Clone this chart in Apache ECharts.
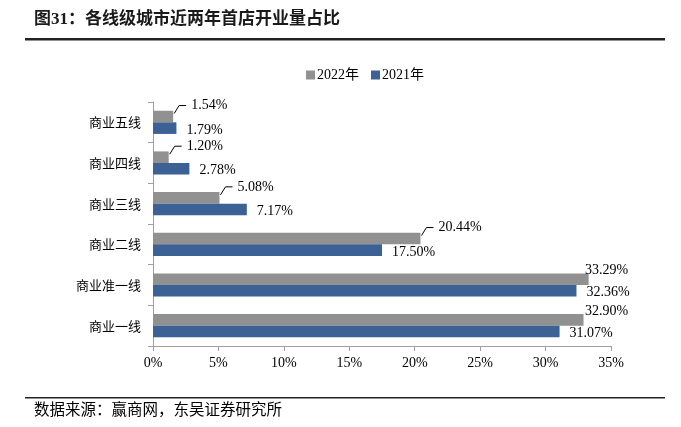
<!DOCTYPE html>
<html><head><meta charset="utf-8">
<script src="https://cdn.jsdelivr.net/npm/echarts@6/dist/echarts.min.js"></script>
<style>html,body{margin:0;padding:0;background:#fff}#c{width:681px;height:427px}</style>
</head><body><div id="c"></div>
<script>
var categories = ['商业一线','商业准一线','商业二线','商业三线','商业四线','商业五线'];
var values2022 = [32.90, 33.29, 20.44, 5.08, 1.20, 1.54];
var values2021 = [31.07, 32.36, 17.50, 7.17, 2.78, 1.79];
var xTicks = [0, 5, 10, 15, 20, 25, 30, 35];

var serif = '"Liberation Serif","Times New Roman","Noto Sans CJK SC",serif';
function pct(v){ return v.toFixed(2) + '%'; }

var chart = echarts.init(document.getElementById('c'));
chart.setOption({
  animation: false,
  textStyle: {fontFamily: serif},
  legend: {
    top: 63, left: 301, itemWidth: 9, itemHeight: 9, itemGap: 12,
    icon: 'rect',
    textStyle: {fontFamily: serif, fontSize: 14, color: '#000', padding: [0,0,0,-3]},
    data: ['2022年','2021年']
  },
  grid: {left: 153, right: 70, top: 102, bottom: 81},
  xAxis: {
    type: 'value', min: xTicks[0], max: xTicks[xTicks.length-1], interval: 5,
    axisLine: {show: true, lineStyle: {color: '#a0a0a0'}},
    axisTick: {show: true, length: 5, lineStyle: {color: '#a0a0a0'}},
    splitLine: {show: false},
    axisLabel: {formatter: '{value}%', color: '#000', fontSize: 14, fontFamily: serif, margin: 10}
  },
  yAxis: {
    type: 'category', data: categories,
    axisLine: {show: true, lineStyle: {color: '#a0a0a0'}},
    axisTick: {show: true, length: 5, lineStyle: {color: '#a0a0a0'}},
    axisLabel: {color: '#000', fontSize: 13, fontFamily: '"Noto Sans CJK SC",sans-serif', margin: 12}
  },
  series: [
    {
      name: '2022年', type: 'bar', data: values2022, barGap: '0%', barCategoryGap: '43%',
      itemStyle: {color: '#919191'}
    },
    {
      name: '2021年', type: 'bar', data: values2021, barGap: '0%', barCategoryGap: '43%',
      itemStyle: {color: '#3b6195'},
      label: {show: true, position: 'right', distance: 10, offset: [0, 2],
        formatter: function(p){ return pct(p.value); },
        color: '#000', fontSize: 14, fontFamily: serif}
    },
    {
      name: 'labels2022', type: 'custom', z: 5, silent: true,
      encode: {x: 0, y: 1},
      data: values2022.map(function(v, i){ return [v, i]; }),
      renderItem: function(params, api){
        var v = api.value(0), c = api.value(1);
        var end = api.coord([v, c]);
        var band = api.size([0, 1])[1];
        var yc = end[1] - band * (1 - 0.43) / 4;
        var xe = end[0];
        var cap = api.coord([xTicks[xTicks.length-1], c])[0] - 26;
        var children = [];
        if (xe + 18 <= cap) {
          children.push({type: 'polyline', shape: {points: [[xe + 1, yc - 3], [xe + 6, yc - 11], [xe + 13, yc - 11]]},
            style: {stroke: '#000', lineWidth: 1, fill: null}});
          children.push({type: 'text', x: xe + 18, y: yc - 11,
            style: {text: pct(v), font: '14px ' + serif, fill: '#000', textVerticalAlign: 'middle', textAlign: 'left'}});
        } else {
          children.push({type: 'text', x: Math.min(xe + 2, cap), y: yc - 9,
            style: {text: pct(v), font: '14px ' + serif, fill: '#000', textVerticalAlign: 'middle', textAlign: 'left'}});
        }
        return {type: 'group', children: children};
      }
    }
  ],
  graphic: [
    {type: 'text', left: 34, top: 11, style: {text: '图31：各线级城市近两年首店开业量占比', font: 'bold 17px "Liberation Serif","Noto Sans CJK SC",serif', fill: '#1a1a1a'}},
    {type: 'rect', shape: {x: 25, y: 38, width: 640, height: 2.5}, style: {fill: '#222'}},
    {type: 'rect', shape: {x: 25, y: 397, width: 640, height: 1.5}, style: {fill: '#222'}},
    {type: 'text', left: 34, top: 401, style: {text: '数据来源：赢商网，东吴证券研究所', font: '15.5px "Noto Sans CJK SC",serif', fill: '#000'}}
  ]
});
</script></body></html>
